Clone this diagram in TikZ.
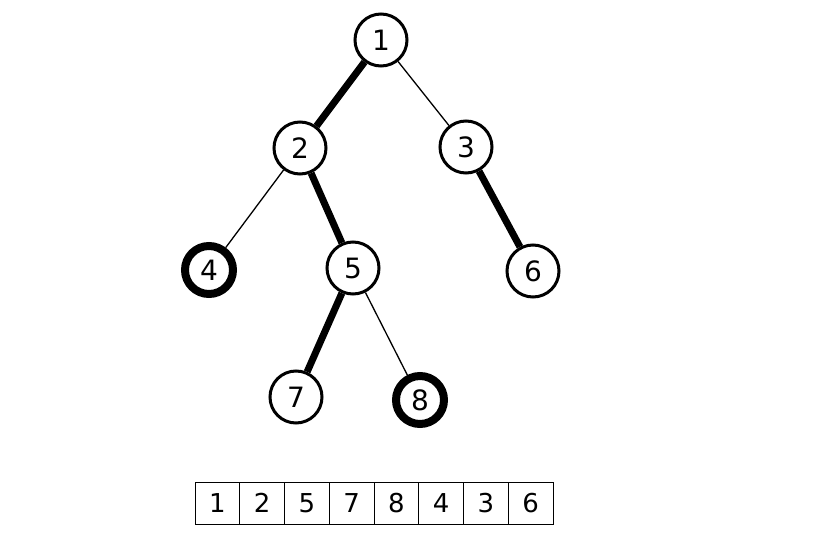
\documentclass[tikz,border=0pt]{standalone}
\usepackage{fontspec}
\setmainfont{DejaVu Sans}
\begin{document}
\begin{tikzpicture}[x=1pt,y=-1pt,
  nd/.style={circle,draw,line width=3pt,minimum size=52pt,inner sep=0pt,fill=white,font=\fontsize{28}{30}\selectfont},
  bnd/.style={nd,line width=8pt,minimum size=48pt},
  thin/.style={line width=1.3pt},
  thk/.style={line width=7pt},
  cell/.style={draw,line width=1pt,minimum width=44.75pt,minimum height=42pt,inner sep=0pt,font=\fontsize{26}{28}\selectfont}]
\useasboundingbox (0,0) rectangle (823,554);
\node[nd] (n1) at (381,40) {1};
\node[nd] (n2) at (300,148) {2};
\node[nd] (n3) at (466,147) {3};
\node[bnd] (n4) at (209,270) {4};
\node[nd] (n5) at (353,268) {5};
\node[nd] (n6) at (533,271) {6};
\node[nd] (n7) at (296,397) {7};
\node[bnd] (n8) at (420,400) {8};
\draw[thk] (n1) -- (n2);
\draw[thin] (n1) -- (n3);
\draw[thin] (n2) -- (n4);
\draw[thk] (n2) -- (n5);
\draw[thk] (n3) -- (n6);
\draw[thk] (n5) -- (n7);
\draw[thin] (n5) -- (n8);
\foreach \v [count=\i] in {1,2,5,7,8,4,3,6}
  \node[cell] (c\i) at ({195+44.75*(\i-0.5)},503) {\v};
\end{tikzpicture}
\end{document}
